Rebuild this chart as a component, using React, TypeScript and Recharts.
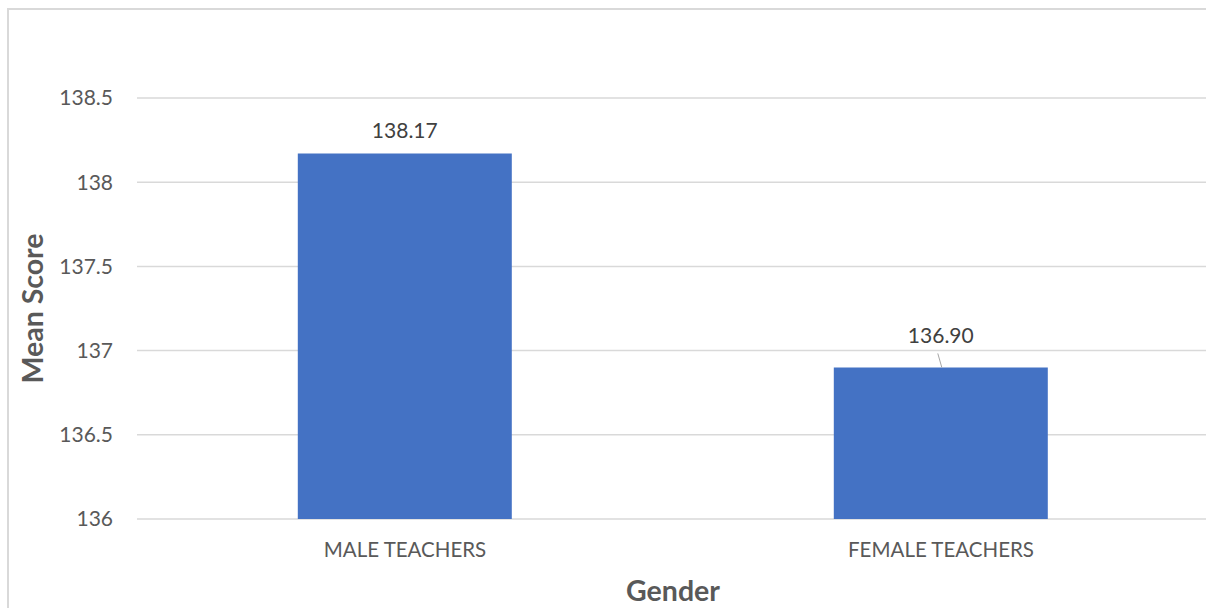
import { BarChart, Bar, XAxis, YAxis, CartesianGrid, LabelList } from "recharts";

const categories = ["MALE TEACHERS", "FEMALE TEACHERS"];
const meanScores = [138.17, 136.9];
const yTicks = [136, 136.5, 137, 137.5, 138, 138.5];

// label distance above each bar (second one sits higher with a leader line in the original)
const labelLift = [16, 24];

const data = categories.map((name, i) => ({ name, score: meanScores[i] }));

const renderLabel = (props: any) => {
    const { x, y, width, value, index } = props;
    const cx = Number(x) + Number(width) / 2;
    const top = Number(y);
    const lift = labelLift[index] ?? 16;
    return (
        <g>
            {lift > 20 && (
                <line x1={cx - 3} y1={top - 14} x2={cx + 1} y2={top} stroke="#a6a6a6" strokeWidth={1} />
            )}
            <text x={cx} y={top - lift} textAnchor="middle" fill="#404040" fontSize={21}>
                {Number(value).toFixed(2)}
            </text>
        </g>
    );
};

export default function App() {
    return (
        <div
            style={{
                position: "fixed",
                left: 7,
                top: 8,
                width: 1205,
                height: 600,
                overflow: "hidden",
                borderTop: "2px solid #d9d9d9",
                borderLeft: "2px solid #d9d9d9",
                background: "#fff",
                fontFamily: "Lato, sans-serif",
            }}
        >
            <BarChart
                width={1205}
                height={598}
                data={data}
                margin={{ top: 88, right: 5, bottom: 59, left: 0 }}
                barCategoryGap="30%"
            >
                <CartesianGrid vertical={false} stroke="#d9d9d9" strokeWidth={1.5} />
                <XAxis
                    dataKey="name"
                    axisLine={false}
                    tickLine={false}
                    height={30}
                    tickMargin={17}
                    tick={{ fill: "#595959", fontSize: 20.5 }}
                    label={{ value: "Gender", position: "bottom", offset: 32, fill: "#595959", fontSize: 28.5, fontWeight: 700 }}
                />
                <YAxis
                    width={128}
                    domain={[136, 138.5]}
                    ticks={yTicks}
                    axisLine={false}
                    tickLine={false}
                    tickMargin={18}
                    tick={{ fill: "#595959", fontSize: 21 }}
                    label={{
                        value: "Mean Score",
                        angle: -90,
                        position: "insideLeft",
                        offset: 24,
                        fill: "#595959",
                        fontSize: 28.5,
                        fontWeight: 700,
                        style: { textAnchor: "middle" },
                    }}
                />
                <Bar dataKey="score" fill="#4472c4" isAnimationActive={false}>
                    <LabelList dataKey="score" content={renderLabel} />
                </Bar>
            </BarChart>
        </div>
    );
}
